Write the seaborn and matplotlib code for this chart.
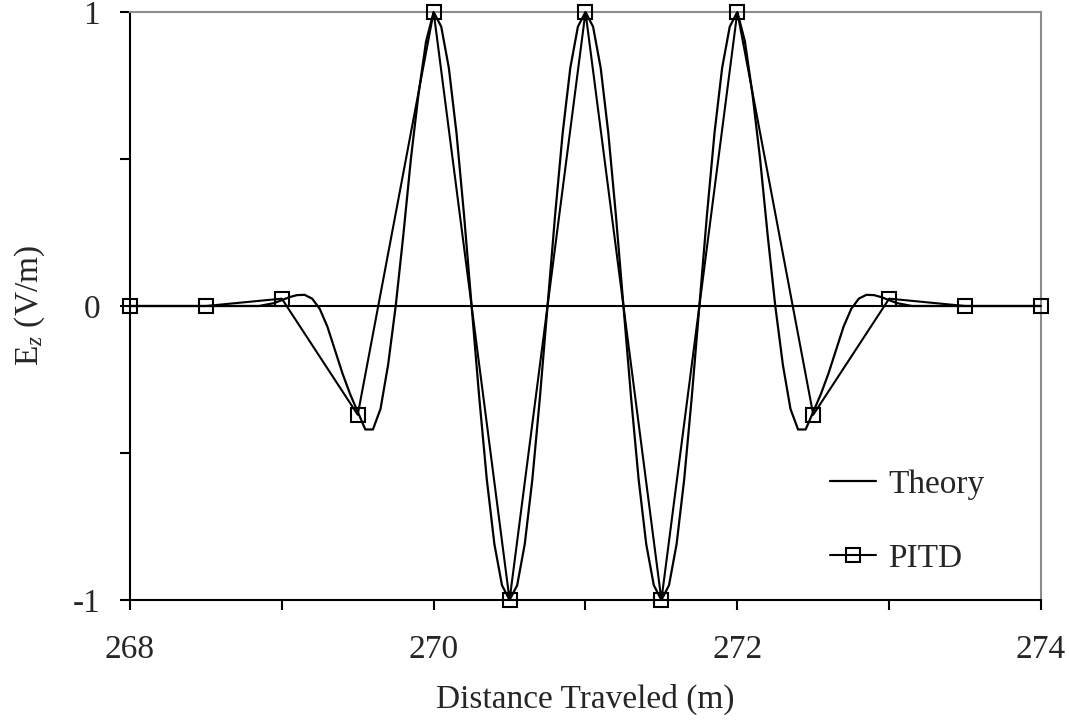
import numpy as np
import matplotlib
matplotlib.use("Agg")
import matplotlib.pyplot as plt
import seaborn as sns

# Theoretical pulse: sample grid (m) and field values (V/m)
theory_x = [268.0] + [round(268.85 + 0.05 * i, 2) for i in range(87)] + [274.0]
theory_y = [
    0.0,
    # 268.85 .. 269.95
    0.00, 0.005, 0.01, 0.02, 0.03, 0.037, 0.038, 0.025, -0.01, -0.07,
    -0.15, -0.23, -0.30, -0.36, -0.42, -0.42, -0.35, -0.20, 0.00, 0.24,
    0.50, 0.72, 0.90,
    # 270.00 .. 271.00
    1.00, 0.95, 0.81, 0.59, 0.31, 0.00, -0.31, -0.59, -0.81, -0.95,
    -1.00, -0.95, -0.81, -0.59, -0.31, 0.00, 0.31, 0.59, 0.81, 0.95,
    1.00,
    # 271.05 .. 271.95
    0.95, 0.81, 0.59, 0.31, 0.00, -0.31, -0.59, -0.81, -0.95, -1.00,
    -0.95, -0.81, -0.59, -0.31, 0.00, 0.31, 0.59, 0.81, 0.95,
    # 272.00 .. 273.15
    1.00, 0.90, 0.72, 0.50, 0.24, 0.00, -0.20, -0.35, -0.42, -0.42,
    -0.36, -0.30, -0.23, -0.15, -0.07, -0.01, 0.025, 0.038, 0.037, 0.03,
    0.02, 0.01, 0.005, 0.00,
    0.0,
]

# PITD samples
pitd_x = [268.0, 268.5, 269.0, 269.5, 270.0, 270.5, 271.0, 271.5, 272.0,
          272.5, 273.0, 273.5, 274.0]
pitd_y = [0.0, 0.0, 0.025, -0.37, 1.0, -1.0, 1.0, -1.0, 1.0,
          -0.37, 0.025, 0.0, 0.0]

x_ticks = [268, 270, 272, 274]
y_ticks = [-1, 0, 1]
y_tick_labels = ["-1", "0", "1"]

sns.set_theme(style="white")
plt.rcParams["font.family"] = ["Liberation Serif", "DejaVu Serif"]
plt.rcParams["mathtext.fontset"] = "custom"
plt.rcParams["mathtext.rm"] = "Liberation Serif"
plt.rcParams["mathtext.it"] = "Liberation Serif:italic"

FS = 24

fig = plt.figure(figsize=(10.69, 7.24), dpi=100)
ax = fig.add_axes([0.1216, 0.1713, 0.9738 - 0.1216, 0.9834 - 0.1713])

ax.axhline(0, color="black", lw=1.5, zorder=1)

sns.lineplot(x=theory_x, y=theory_y, ax=ax, color="black", lw=1.6,
             label="Theory", sort=False, zorder=3)
sns.lineplot(x=pitd_x, y=pitd_y, ax=ax, color="black", lw=1.5,
             marker="s", markersize=10, markerfacecolor="none",
             markeredgecolor="black", markeredgewidth=1.5,
             label="PITD", sort=False, zorder=4, clip_on=False)

ax.set_xlim(268, 274)
ax.set_ylim(-1, 1)
ax.set_xticks(x_ticks)
ax.set_xticks(np.arange(268, 275, 1), minor=True)
ax.set_yticks(y_ticks)
ax.set_yticklabels(y_tick_labels)
ax.set_yticks([-0.5, 0.5], minor=True)

ax.tick_params(axis="both", which="both", direction="out", length=7.5,
               width=1.5, color="black", labelsize=FS,
               bottom=True, left=True, top=False, right=False)
ax.tick_params(axis="x", which="major", pad=17)
ax.tick_params(axis="y", which="major", pad=14)

for side in ["left", "bottom"]:
    ax.spines[side].set_color("black")
    ax.spines[side].set_linewidth(1.5)
for side in ["top", "right"]:
    ax.spines[side].set_color("#8c8c8c")
    ax.spines[side].set_linewidth(1.5)

ax.set_xlabel("Distance Traveled (m)", fontsize=FS, labelpad=14)
ax.set_ylabel(r"E$_{\mathit{z}}$ (V/m)", fontsize=FS, labelpad=18)

leg = ax.legend(loc="upper left", bbox_to_anchor=(0.768, 0.222),
                frameon=False, fontsize=FS, handlelength=1.4,
                handletextpad=0.35, labelspacing=1.3, numpoints=1,
                borderpad=0, borderaxespad=0)

fig.savefig("out.png", dpi=100)
